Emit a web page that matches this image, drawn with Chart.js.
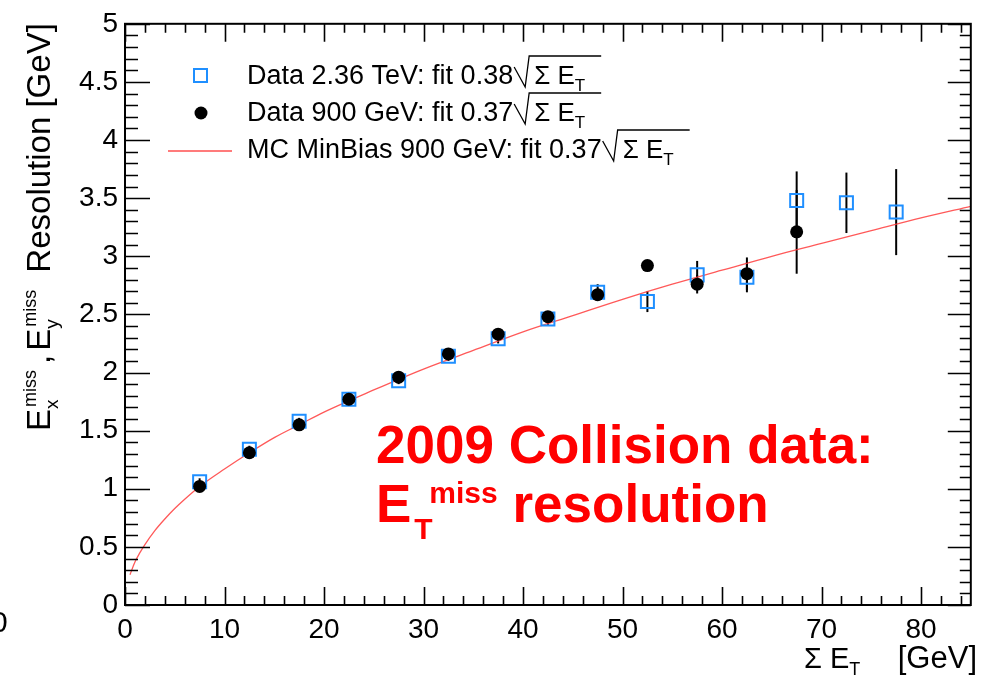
<!DOCTYPE html>
<html>
<head>
<meta charset="utf-8">
<script src="https://cdn.jsdelivr.net/npm/chart.js@4.4.1/dist/chart.umd.min.js"></script>
<style>
  html, body { margin: 0; padding: 0; background: #fff; }
  #wrap { width: 982px; height: 679px; position: relative; }
</style>
</head>
<body>
<div id="wrap"><canvas id="myChart" width="982" height="679"></canvas></div>
<script>
// bin centres (Sum ET, GeV)
const binsHigh = [7.5, 12.5, 17.5, 22.5, 27.5, 32.5, 37.5, 42.5, 47.5, 52.5, 57.5, 62.5, 67.5, 72.5, 77.5];
const data236 = [1.06, 1.34, 1.58, 1.77, 1.93, 2.14, 2.29, 2.46, 2.69, 2.61, 2.84, 2.82, 3.48, 3.46, 3.38];
const err236  = [0.03, 0.03, 0.03, 0.03, 0.03, 0.04, 0.04, 0.05, 0.07, 0.09, 0.12, 0.13, 0.25, 0.26, 0.37];

const binsLow = [7.5, 12.5, 17.5, 22.5, 27.5, 32.5, 37.5, 42.5, 47.5, 52.5, 57.5, 62.5, 67.5];
const data900 = [1.02, 1.31, 1.55, 1.77, 1.96, 2.16, 2.33, 2.48, 2.67, 2.92, 2.76, 2.85, 3.21];
const err900  = [0.02, 0.02, 0.02, 0.03, 0.03, 0.03, 0.04, 0.04, 0.05, 0.03, 0.08, 0.14, 0.36];

// MC fit curve
const mcX = [0.5, 1, 1.5, 2, 3, 4, 5, 6, 7.5, 10, 12.5, 15, 17.5, 20, 25, 30, 35, 40, 45, 50, 55, 60, 65, 70, 75, 80, 85];
const mcY = [0.26, 0.37, 0.45, 0.52, 0.64, 0.74, 0.83, 0.91, 1.02, 1.17, 1.31, 1.44, 1.55, 1.66, 1.85, 2.03, 2.19, 2.35, 2.49, 2.63, 2.76, 2.88, 3.00, 3.11, 3.22, 3.33, 3.43];

const xTicks = [0, 10, 20, 30, 40, 50, 60, 70, 80];
const yTicks = [0, 0.5, 1, 1.5, 2, 2.5, 3, 3.5, 4, 4.5, 5];

const FONT = '"Liberation Sans", Arial, Helvetica, sans-serif';
const blue = '#1f8fff';

function pts(xs, ys) { return xs.map((x, i) => ({ x: x, y: ys[i] })); }

// draw a list of text pieces; piece.stack = next piece starts at same x
function drawRich(ctx, x, y, parts, color) {
  let cx = x;
  let stackW = 0;
  parts.forEach(p => {
    ctx.font = (p.bold ? 'bold ' : '') + p.size + 'px ' + FONT;
    ctx.fillStyle = color || '#000';
    ctx.fillText(p.t, cx + (p.dx || 0), y + (p.dy || 0));
    const w = ctx.measureText(p.t).width + (p.dx || 0);
    if (p.stack) {
      stackW = Math.max(stackW, w);
    } else {
      cx += Math.max(w, stackW);
      stackW = 0;
    }
  });
  return cx;
}

function sqrtSign(ctx, x, y, endX) {
  ctx.save();
  ctx.strokeStyle = '#000';
  ctx.lineWidth = 1.3;
  ctx.beginPath();
  ctx.moveTo(x, y - 17);
  ctx.lineTo(x + 11, y + 3);
  ctx.lineTo(x + 15, y - 28);
  ctx.lineTo(endX, y - 28);
  ctx.stroke();
  ctx.restore();
}

const decor = {
  id: 'decor',
  beforeDatasetsDraw(chart) {
    const ctx = chart.ctx;
    const xs = chart.scales.x, ys = chart.scales.y;
    ctx.save();
    ctx.strokeStyle = '#000';
    ctx.lineWidth = 2;
    const bars = (bx, vals, errs) => {
      bx.forEach((b, i) => {
        const px = xs.getPixelForValue(b);
        ctx.beginPath();
        ctx.moveTo(px, ys.getPixelForValue(vals[i] - errs[i]));
        ctx.lineTo(px, ys.getPixelForValue(vals[i] + errs[i]));
        ctx.stroke();
      });
    };
    bars(binsHigh, data236, err236);
    bars(binsLow, data900, err900);
    ctx.restore();
  },
  afterDraw(chart) {
    const ctx = chart.ctx;
    const a = chart.chartArea;
    const xs = chart.scales.x, ys = chart.scales.y;
    ctx.save();
    // frame
    ctx.strokeStyle = '#000';
    ctx.lineWidth = 2;
    ctx.strokeRect(a.left, a.top, a.right - a.left, a.bottom - a.top);
    // ticks, all four sides, inward
    ctx.lineWidth = 1.6;
    ctx.beginPath();
    for (let v = 0; v <= 85; v += 2) {
      const px = Math.round(xs.getPixelForValue(v)) + 0.5;
      const len = v % 10 === 0 ? 18 : 9;
      ctx.moveTo(px, a.bottom); ctx.lineTo(px, a.bottom - len);
      ctx.moveTo(px, a.top); ctx.lineTo(px, a.top + len);
    }
    for (let k = 0; k <= 50; k++) {
      const py = Math.round(ys.getPixelForValue(k / 10)) + 0.5;
      const major = k % 5 === 0;
      ctx.moveTo(a.left, py); ctx.lineTo(a.left + (major ? 25 : 13), py);
      ctx.moveTo(a.right, py); ctx.lineTo(a.right - (major ? 23 : 11), py);
    }
    ctx.stroke();

    // legend
    ctx.textBaseline = 'alphabetic';
    ctx.textAlign = 'left';
    ctx.strokeStyle = blue;
    ctx.lineWidth = 2;
    ctx.strokeRect(194, 69, 13, 13);
    ctx.fillStyle = '#000';
    ctx.beginPath(); ctx.arc(201, 113, 6.5, 0, Math.PI * 2); ctx.fill();
    ctx.strokeStyle = 'rgba(255,60,60,0.9)';
    ctx.lineWidth = 1.5;
    ctx.beginPath(); ctx.moveTo(168, 151); ctx.lineTo(232, 151); ctx.stroke();

    const legRows = [
      ['Data 2.36 TeV: fit 0.38', 84],
      ['Data 900 GeV: fit 0.37', 121],
      ['MC MinBias 900 GeV: fit 0.37', 158]
    ];
    legRows.forEach(r => {
      const endTxt = drawRich(ctx, 247, r[1], [{ t: r[0], size: 27 }]);
      const sx = endTxt + 1;
      const endRad = drawRich(ctx, sx + 20, r[1], [
        { t: '\u03A3 E', size: 26 },
        { t: 'T', size: 17, dy: 7 }
      ]);
      sqrtSign(ctx, sx, r[1], endRad + 16);
    });

    // y-axis title (rotated)
    ctx.save();
    ctx.translate(50, 431);
    ctx.rotate(-Math.PI / 2);
    drawRich(ctx, 0, 0, [
      { t: 'E', size: 33 },
      { t: 'x', size: 19, dy: 8, stack: true },
      { t: 'miss', size: 18, dy: -14, dx: 2 },
      { t: ',', size: 33, dx: 6 },
      { t: 'E', size: 33, dx: 4 },
      { t: 'y', size: 19, dy: 8, stack: true },
      { t: 'miss', size: 18, dy: -14, dx: 2 },
      { t: ' Resolution [GeV]', size: 33, dx: 8 }
    ]);
    ctx.restore();

    // x-axis title
    drawRich(ctx, 804, 668, [
      { t: '\u03A3 E', size: 29 },
      { t: 'T', size: 18, dy: 7 }
    ]);
    ctx.textAlign = 'right';
    ctx.font = '31px ' + FONT;
    ctx.fillText('[GeV]', 977, 668);
    ctx.textAlign = 'left';

    // stray label at the left edge
    ctx.font = '30px ' + FONT;
    ctx.fillStyle = '#000';
    ctx.fillText('0', -9, 632);

    // red annotation
    const red = '#ff0000';
    drawRich(ctx, 376, 463, [{ t: '2009 Collision data:', size: 53, bold: true }], red);
    drawRich(ctx, 376, 522, [
      { t: 'E', size: 53, bold: true },
      { t: 'T', size: 30, bold: true, dy: 17, dx: 3, stack: true },
      { t: 'miss', size: 30, bold: true, dy: -19, dx: 18 },
      { t: ' resolution', size: 53, bold: true }
    ], red);
    ctx.restore();
  }
};

const ctx = document.getElementById('myChart').getContext('2d');
const chart = new Chart(ctx, {
  type: 'scatter',
  data: {
    datasets: [
      {
        label: 'Data 900 GeV',
        data: pts(binsLow, data900),
        pointStyle: 'circle',
        pointRadius: 6.5,
        backgroundColor: '#000',
        borderColor: '#000',
        borderWidth: 0
      },
      {
        label: 'Data 2.36 TeV',
        data: pts(binsHigh, data236),
        pointStyle: 'rect',
        pointRadius: 9.2,
        backgroundColor: 'rgba(0,0,0,0)',
        borderColor: blue,
        borderWidth: 2
      },
      {
        type: 'line',
        label: 'MC MinBias 900 GeV',
        data: pts(mcX, mcY),
        borderColor: 'rgba(255,60,60,0.85)',
        borderWidth: 1.3,
        pointRadius: 0,
        fill: false,
        cubicInterpolationMode: 'monotone'
      }
    ]
  },
  options: {
    responsive: false,
    animation: false,
    events: [],
    layout: { padding: { top: 22, right: 7, left: 0, bottom: 0 } },
    plugins: { legend: { display: false }, tooltip: { enabled: false } },
    scales: {
      x: {
        type: 'linear',
        min: 0, max: 85,
        afterFit: s => { s.height = 74; },
        afterBuildTicks: s => { s.ticks = xTicks.map(v => ({ value: v })); },
        grid: { display: false, drawTicks: false },
        border: { display: false },
        ticks: { color: '#000', padding: 8, maxRotation: 0, autoSkip: false, font: { family: FONT, size: 28 }, callback: v => String(v) }
      },
      y: {
        type: 'linear',
        min: 0, max: 5,
        afterFit: s => { s.width = 125; },
        afterBuildTicks: s => { s.ticks = yTicks.map(v => ({ value: v })); },
        grid: { display: false, drawTicks: false },
        border: { display: false },
        ticks: { color: '#000', padding: 7, autoSkip: false, font: { family: FONT, size: 28 }, callback: v => String(v) }
      }
    }
  },
  plugins: [decor]
});
</script>
</body>
</html>
